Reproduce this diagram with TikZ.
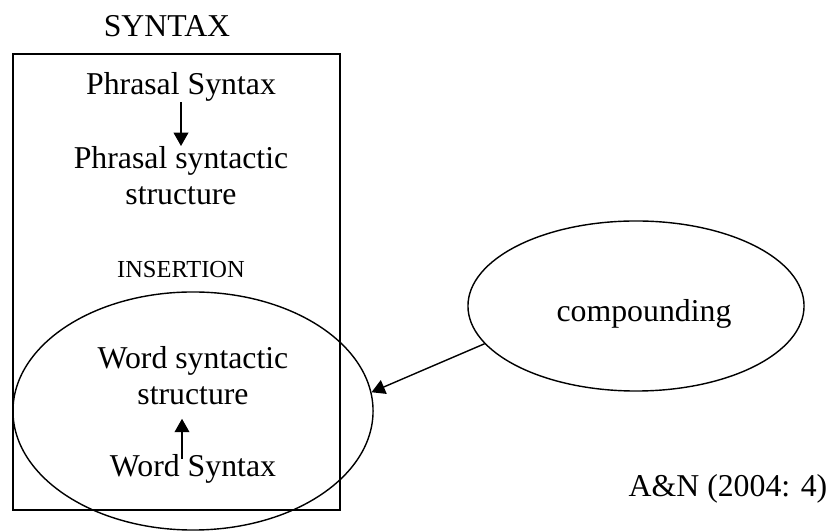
\documentclass[tikz,border=0pt]{standalone}
\usepackage{fontspec}
\setmainfont{Liberation Serif}
\usetikzlibrary{shapes.geometric,arrows.meta,calc}

\begin{document}
\begin{tikzpicture}[x=0.025cm,y=0.025cm,
		txt/.style={inner sep=0pt,font=\fontsize{22.6}{25.5}\selectfont,align=center},
		small/.style={inner sep=0pt,font=\fontsize{17.4}{20}\selectfont},
		oval/.style={draw,ellipse,line width=1pt,inner sep=0pt},
		arr/.style={line width=1pt,-{Triangle[length=9.5pt,width=10.5pt]}}]
				\useasboundingbox (0,0) rectangle (827,531);
				
				% syntax box
				\node[txt,anchor=base] (syn) at (167,494) {SYNTAX};
				\draw[line width=1.2pt] (13,477) rectangle (340,21);
				
				\node[txt,anchor=base] (ps) at (181,436) {Phrasal Syntax};
				\node[txt,anchor=north] (pss) at (181,385) {Phrasal syntactic\\structure};
				\draw[arr] (ps.south) -- (pss.north);
				
				\node[small,anchor=base] (ins) at (181,253) {INSERTION};
				
				% word level
				\node[oval,minimum width=9cm,minimum height=5.95cm] (wse) at (193,120) {};
				\node[txt,anchor=north] (wss) at (193,185) {Word syntactic\\structure};
				\node[txt,anchor=base] (ws) at (193,54) {Word Syntax};
				\draw[arr] ($(ws.north)+(-11,-4)$) -- ($(wss.south)+(-11,-14)$);
				
				% compounding
				\node[oval,minimum width=8.4cm,minimum height=4.25cm] (comp) at (636,225) {};
				\node[txt,anchor=base] (cmp) at (644,209) {compounding};
				\draw[arr] (comp.194) -- (wse.6);
				
				\node[txt,anchor=base] (src) at (728,34) {A\&N (2004: 4)};
			\end{tikzpicture}
\end{document}
